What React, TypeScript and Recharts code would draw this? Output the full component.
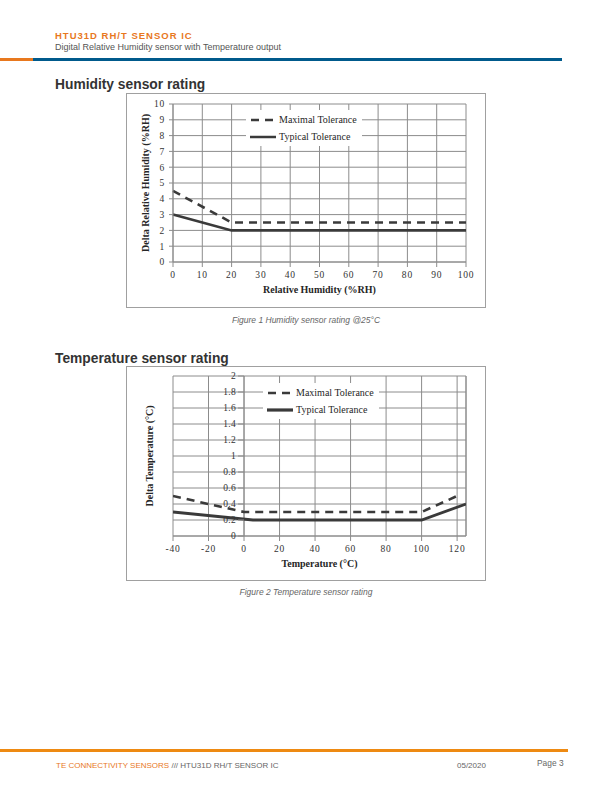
import React from 'react';
import {
  LineChart,
  Line,
  XAxis,
  YAxis,
  CartesianGrid,
  Legend,
  ReferenceLine,
  ReferenceDot,
} from 'recharts';

// ---------- Data ----------
const seriesNames = ['Maximal Tolerance', 'Typical Tolerance'];

const humidityMaxX = [0, 20, 100];
const humidityMaxTol = [4.5, 2.5, 2.5];
const humidityTypX = [0, 20, 100];
const humidityTypTol = [3, 2, 2];
const humidityXTicks = [0, 10, 20, 30, 40, 50, 60, 70, 80, 90, 100];
const humidityYTicks = [0, 1, 2, 3, 4, 5, 6, 7, 8, 9, 10];

const tempMaxX = [-40, 0, 100, 120];
const tempMaxTol = [0.5, 0.3, 0.3, 0.5];
const tempTypX = [-40, 5, 100, 125];
const tempTypTol = [0.3, 0.2, 0.2, 0.4];
const tempXTicks = [-40, -20, 0, 20, 40, 60, 80, 100, 120];
const tempXDomain = [-40, 125];
const tempYTicks = [0, 0.2, 0.4, 0.6, 0.8, 1, 1.2, 1.4, 1.6, 1.8, 2];

const humidityMaxData = humidityMaxX.map((x, i) => ({ x, y: humidityMaxTol[i] }));
const humidityTypData = humidityTypX.map((x, i) => ({ x, y: humidityTypTol[i] }));
const tempMaxData = tempMaxX.map((x, i) => ({ x, y: tempMaxTol[i] }));
const tempTypData = tempTypX.map((x, i) => ({ x, y: tempTypTol[i] }));

// ---------- Styles ----------
const SERIF = '"Liberation Serif", "Times New Roman", serif';
const SANS = '"Liberation Sans", Arial, sans-serif';
const GRID = '#8c8c8c';
const LINE = '#3a3a3a';
const ORANGE = '#E8781E';
const BLUE = '#005A8C';
const DASH = '8 6';

const tickStyle = { fontFamily: SERIF, fontSize: 9.5, fill: '#333', letterSpacing: 0.8 };
const titleStyle = { fontFamily: SERIF, fontSize: 10, fontWeight: 'bold', fill: '#262626' } as any;

const LegendBox = ({ thick, width }: { thick: number; width: number }) => (
  <div
    style={{
      background: '#fff',
      width,
      padding: '1px 4px',
      fontFamily: SERIF,
      fontSize: 10,
      color: '#262626',
      lineHeight: '17px',
      boxSizing: 'border-box',
    }}
  >
    <div style={{ display: 'flex', alignItems: 'center' }}>
      <svg width={26} height={6} style={{ display: 'block' }}>
        <line x1={1} y1={3} x2={26} y2={3} stroke={LINE} strokeWidth={2.5} strokeDasharray="8 6" />
      </svg>
      <span style={{ marginLeft: 3, whiteSpace: 'nowrap' }}>{seriesNames[0]}</span>
    </div>
    <div style={{ display: 'flex', alignItems: 'center' }}>
      <svg width={26} height={6} style={{ display: 'block' }}>
        <line x1={0} y1={3} x2={26} y2={3} stroke={LINE} strokeWidth={thick} />
      </svg>
      <span style={{ marginLeft: 3, whiteSpace: 'nowrap' }}>{seriesNames[1]}</span>
    </div>
  </div>
);

const EmptyTick = () => <g />;

const HumidityChart = () => (
  <LineChart width={360} height={215} margin={{ top: 11, right: 20, left: 0, bottom: 0 }}>
    <CartesianGrid stroke={GRID} strokeWidth={1} />
    <XAxis
      type="number"
      dataKey="x"
      domain={[0, 100]}
      ticks={humidityXTicks}
      interval={0}
      height={46}
      tick={tickStyle}
      tickSize={5}
      tickMargin={4}
      stroke={GRID}
      label={{ value: 'Relative Humidity (%RH)', position: 'insideBottom', offset: 15, style: titleStyle }}
    />
    <YAxis
      type="number"
      dataKey="y"
      domain={[0, 10]}
      ticks={humidityYTicks}
      interval={0}
      width={47}
      tick={tickStyle}
      tickSize={4}
      tickMargin={4}
      stroke={GRID}
      label={{
        value: 'Delta Relative Humidity (%RH)',
        angle: -90,
        position: 'insideLeft',
        offset: 19,
        style: { ...titleStyle, textAnchor: 'middle' },
      }}
    />
    <Legend
      layout="vertical"
      align="center"
      verticalAlign="middle"
      wrapperStyle={{ left: 120, top: 17, width: 116 }}
      content={() => <LegendBox thick={2.5} width={116} />}
    />
    <Line
      data={humidityMaxData}
      dataKey="y"
      name={seriesNames[0]}
      stroke={LINE}
      strokeWidth={2.6}
      strokeDasharray={DASH}
      dot={false}
      isAnimationActive={false}
    />
    <Line
      data={humidityTypData}
      dataKey="y"
      name={seriesNames[1]}
      stroke={LINE}
      strokeWidth={2.6}
      dot={false}
      isAnimationActive={false}
    />
  </LineChart>
);

const TempChart = () => (
  <LineChart width={360} height={215} margin={{ top: 10, right: 20, left: 0, bottom: 0 }}>
    <CartesianGrid stroke={GRID} strokeWidth={1} />
    <XAxis
      type="number"
      dataKey="x"
      domain={tempXDomain}
      ticks={tempXTicks}
      interval={0}
      height={45}
      tick={tickStyle}
      tickSize={5}
      tickMargin={4}
      stroke={GRID}
      allowDataOverflow
      label={{ value: 'Temperature (°C)', position: 'insideBottom', offset: 14, style: titleStyle }}
    />
    <YAxis
      type="number"
      dataKey="y"
      domain={[0, 2]}
      ticks={tempYTicks}
      interval={0}
      width={47}
      tick={<EmptyTick />}
      tickLine={false}
      axisLine={false}
      label={{
        value: 'Delta Temperature (°C)',
        angle: -90,
        position: 'insideLeft',
        offset: 23,
        style: { ...titleStyle, textAnchor: 'middle' },
      }}
    />
    <ReferenceLine x={tempXDomain[1]} stroke={GRID} strokeWidth={1} />
    <ReferenceLine x={0} stroke={GRID} strokeWidth={1} />
    {tempYTicks.map((v) => (
      <ReferenceDot
        key={v}
        x={0}
        y={v}
        r={0}
        ifOverflow="visible"
        shape={(p: any) => (
          <g>
            <line x1={p.cx - 6} y1={p.cy} x2={p.cx} y2={p.cy} stroke={GRID} strokeWidth={1} />
            <text
              x={p.cx - 8}
              y={p.cy}
              dy="0.35em"
              textAnchor="end"
              style={{ fontFamily: SERIF, fontSize: 9.5, fill: '#333', letterSpacing: 0.3 }}
            >
              {String(v)}
            </text>
          </g>
        )}
      />
    ))}
    <Legend
      layout="vertical"
      align="center"
      verticalAlign="middle"
      wrapperStyle={{ left: 137, top: 17, width: 116 }}
      content={() => <LegendBox thick={3.2} width={116} />}
    />
    <Line
      data={tempMaxData}
      dataKey="y"
      name={seriesNames[0]}
      stroke={LINE}
      strokeWidth={2.6}
      strokeDasharray={DASH}
      dot={false}
      isAnimationActive={false}
    />
    <Line
      data={tempTypData}
      dataKey="y"
      name={seriesNames[1]}
      stroke={LINE}
      strokeWidth={2.8}
      dot={false}
      isAnimationActive={false}
    />
  </LineChart>
);

const abs = (left: number, top: number, extra: any = {}) => ({ position: 'absolute', left, top, ...extra } as any);

export default function App() {
  return (
    <div style={{ position: 'absolute', left: 0, top: 0, width: 612, height: 792, background: '#fff', fontFamily: SANS }}>
      {/* Header */}
      <div style={abs(55, 30, { fontSize: 9.5, fontWeight: 'bold', color: ORANGE, letterSpacing: 1, whiteSpace: 'nowrap', lineHeight: '11px' })}>
        HTU31D RH/T SENSOR IC
      </div>
      <div style={abs(55, 42, { fontSize: 9, color: '#555', whiteSpace: 'nowrap', lineHeight: '11px' })}>
        Digital Relative Humidity sensor with Temperature output
      </div>
      <div style={abs(0, 58, { width: 33, height: 3, background: ORANGE })} />
      <div style={abs(33, 58, { width: 529, height: 3, background: BLUE })} />

      {/* Section 1 */}
      <div style={abs(55, 76, { fontSize: 13.8, fontWeight: 'bold', color: '#333', whiteSpace: 'nowrap', lineHeight: '17px' })}>
        Humidity sensor rating
      </div>
      <div style={abs(126, 93, { width: 360, height: 215, border: '1px solid #a0a0a0', boxSizing: 'border-box' })} />
      <div style={abs(126, 93, { width: 360, height: 215 })}>
        <HumidityChart />
      </div>
      <div style={abs(0, 315, { width: 612, textAlign: 'center', fontSize: 8.5, fontStyle: 'italic', color: '#666', lineHeight: '11px' })}>
        Figure 1 Humidity sensor rating @25°C
      </div>

      {/* Section 2 */}
      <div style={abs(55, 350, { fontSize: 13.8, fontWeight: 'bold', color: '#333', whiteSpace: 'nowrap', lineHeight: '17px' })}>
        Temperature sensor rating
      </div>
      <div style={abs(126, 366, { width: 360, height: 215, border: '1px solid #a0a0a0', boxSizing: 'border-box' })} />
      <div style={abs(126, 366, { width: 360, height: 215 })}>
        <TempChart />
      </div>
      <div style={abs(0, 587, { width: 612, textAlign: 'center', fontSize: 8.5, fontStyle: 'italic', color: '#666', lineHeight: '11px' })}>
        Figure 2 Temperature sensor rating
      </div>

      {/* Footer */}
      <div style={abs(0, 749, { width: 568, height: 2.5, background: '#EE8A12' })} />
      <div style={abs(56, 760, { fontSize: 8, whiteSpace: 'nowrap', lineHeight: '11px', color: '#666' })}>
        <span style={{ color: ORANGE }}>TE CONNECTIVITY SENSORS</span> /// HTU31D RH/T SENSOR IC
      </div>
      <div style={abs(457, 760, { fontSize: 8, whiteSpace: 'nowrap', lineHeight: '11px', color: '#666' })}>05/2020</div>
      <div style={abs(537, 758, { fontSize: 8.4, whiteSpace: 'nowrap', lineHeight: '11px', color: '#666' })}>Page 3</div>
    </div>
  );
}
